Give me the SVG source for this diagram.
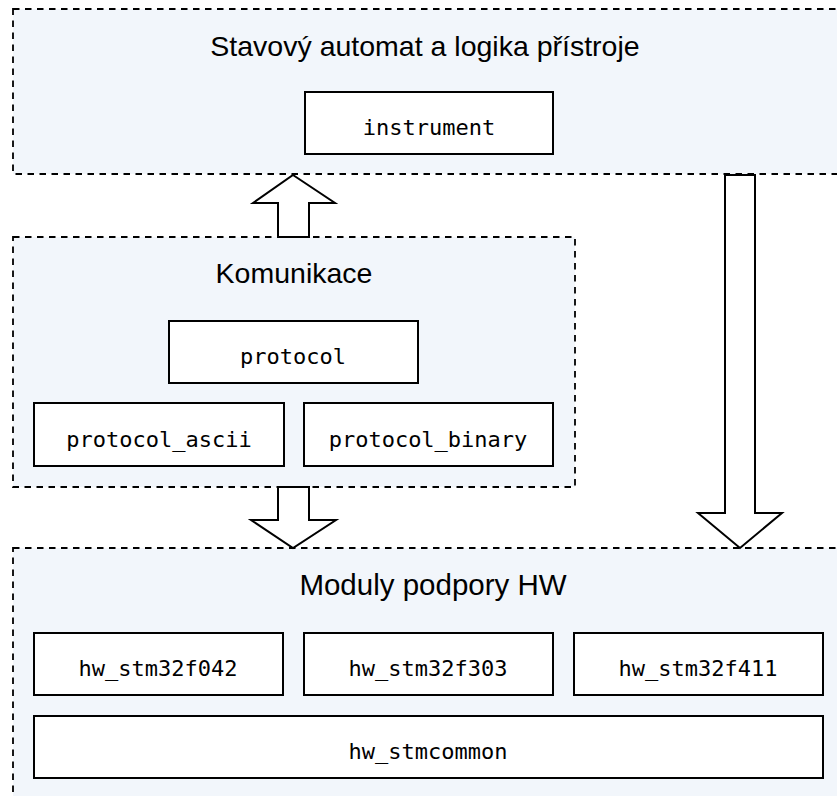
<svg xmlns="http://www.w3.org/2000/svg" width="837" height="796" viewBox="0 0 837 796">
<style>
.grp{fill:#f2f6fb;stroke:#000;stroke-width:1.8;stroke-dasharray:6.5 5.5}
.box{fill:#fff;stroke:#000;stroke-width:2}
.title{font-family:"Liberation Sans",Arial,sans-serif;font-size:28.5px;fill:#000;text-anchor:middle}
.mono{font-family:"DejaVu Sans Mono",monospace;font-size:22px;fill:#000;text-anchor:middle}
.arrow{fill:#fff;stroke:#000;stroke-width:2;stroke-linejoin:miter}
</style>
<rect width="837" height="796" fill="#fff"/>
<g id="grp-stav">
<rect class="grp" x="13" y="9" width="840" height="165"/>
<text class="title" x="425" y="56">Stavový automat a logika přístroje</text>
</g>
<g id="grp-kom">
<rect class="grp" x="13" y="237" width="562" height="250"/>
<text class="title" x="294" y="283">Komunikace</text>
</g>
<g id="grp-hw">
<rect class="grp" x="13" y="548" width="840" height="260"/>
<text class="title" x="433" y="595" style="font-size:29.5px">Moduly podpory HW</text>
</g>
<g id="instrument"><rect class="box" x="305" y="92" width="248" height="62"/><text class="mono" x="429" y="135">instrument</text></g>
<g id="protocol"><rect class="box" x="169" y="321" width="249" height="62"/><text class="mono" x="293" y="364">protocol</text></g>
<g id="protocol_ascii"><rect class="box" x="34" y="403" width="250" height="63"/><text class="mono" x="159" y="447">protocol_ascii</text></g>
<g id="protocol_binary"><rect class="box" x="304" y="403" width="249" height="63"/><text class="mono" x="428" y="447">protocol_binary</text></g>
<g id="hw_stm32f042"><rect class="box" x="34" y="633" width="249" height="62"/><text class="mono" x="158" y="676">hw_stm32f042</text></g>
<g id="hw_stm32f303"><rect class="box" x="304" y="633" width="249" height="62"/><text class="mono" x="428" y="676">hw_stm32f303</text></g>
<g id="hw_stm32f411"><rect class="box" x="574" y="633" width="249" height="62"/><text class="mono" x="698" y="676">hw_stm32f411</text></g>
<g id="hw_stmcommon"><rect class="box" x="34" y="716" width="789" height="62"/><text class="mono" x="428" y="759">hw_stmcommon</text></g>
<g id="connectors">
<polygon class="arrow" points="293,175 335,203 309,203 309,237 278,237 278,203 253,203"/>
<polygon class="arrow" points="278,487 309,487 309,520 336,520 293,548 251,520 278,520"/>
<polygon class="arrow" points="725,175 755,175 755,513 782,513 740,548 698,513 725,513"/>
</g>
</svg>
